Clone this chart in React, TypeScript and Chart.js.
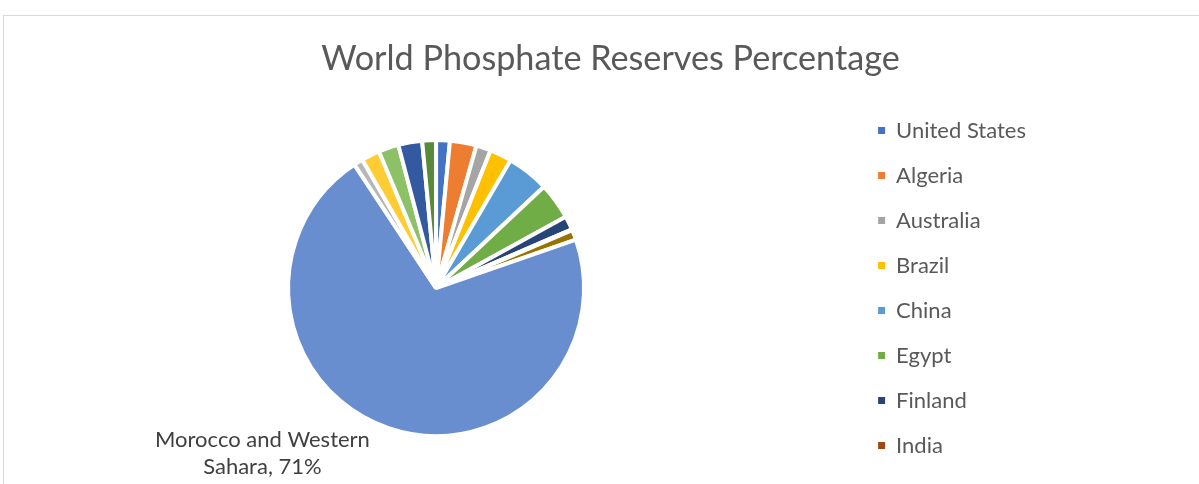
import React, { useEffect, useRef } from "react";
import { Chart, registerables } from "chart.js";

Chart.register(...registerables);

// ---- data ----
const chartTitle = "World Phosphate Reserves Percentage";
const countries = [
  "United States",
  "Algeria",
  "Australia",
  "Brazil",
  "China",
  "Egypt",
  "Finland",
  "India",
  "Jordan",
  "Morocco and Western Sahara",
  "Russia",
  "Saudi Arabia",
  "South Africa",
  "Syria",
  "Other countries",
];
const reservesPct = [1.5, 2.9, 1.6, 2.4, 4.6, 4.0, 1.5, 0.1, 1.1, 71.0, 1.0, 2.0, 2.2, 2.6, 1.5];
const sliceColors = [
  "#4472C4",
  "#ED7D31",
  "#A5A5A5",
  "#FFC000",
  "#5B9BD5",
  "#70AD47",
  "#264478",
  "#9E480E",
  "#997300",
  "#698ED0",
  "#B7B7B7",
  "#FFCD33",
  "#8CC168",
  "#335AA1",
  "#5A8A39",
];
const legendCount = 8; // legend entries that fit in the box
const labelledCountry = "Morocco and Western Sahara";

const FONT = "Lato, Carlito, 'Open Sans', sans-serif";

// centre the title across the whole chart area (like the Excel chart)
const titleSpanPlugin = {
  id: "titleSpan",
  afterLayout(chart: any) {
    if (chart.titleBlock) {
      chart.titleBlock.left = 0;
      chart.titleBlock.right = chart.width;
    }
  },
};

const dataLabelPlugin = {
  id: "sliceLabel",
  afterDatasetsDraw(chart: any) {
    const idx = countries.indexOf(labelledCountry);
    const arc = chart.getDatasetMeta(0).data[idx];
    if (!arc) return;
    const { x, y, outerRadius } = arc.getProps(["x", "y", "outerRadius"], true);
    const total = reservesPct.reduce((a, b) => a + b, 0);
    const pct = Math.round((reservesPct[idx] / total) * 100);
    const text = `${labelledCountry}, ${pct}%`;
    const ctx = chart.ctx;
    ctx.save();
    ctx.font = `22px ${FONT}`;
    ctx.fillStyle = "#404040";
    ctx.textAlign = "center";
    ctx.textBaseline = "alphabetic";
    const words = text.split(" ");
    const lines: string[] = [];
    let cur = "";
    const maxW = 240;
    for (const w of words) {
      const t = cur ? cur + " " + w : w;
      if (ctx.measureText(t).width > maxW && cur) {
        lines.push(cur);
        cur = w;
      } else cur = t;
    }
    if (cur) lines.push(cur);
    const ang = (136.4 * Math.PI) / 180;
    const cx = x + Math.cos(ang) * outerRadius * 1.62;
    const cy = y + Math.sin(ang) * outerRadius * 1.62;
    const lh = 27.7;
    const startY = cy - ((lines.length - 1) * lh) / 2 + 7;
    lines.forEach((l, i) => ctx.fillText(l, cx, startY + i * lh));
    ctx.restore();
  },
};

export default function App() {
  const ref = useRef<HTMLCanvasElement>(null);
  useEffect(() => {
    if (!ref.current) return;
    const chart = new Chart(ref.current, {
      type: "pie",
      data: {
        labels: countries,
        datasets: [
          {
            data: reservesPct,
            backgroundColor: sliceColors,
            borderColor: "#FFFFFF",
            borderWidth: 4,
            radius: 148,
          } as any,
        ],
      },
      options: {
        animation: false,
        responsive: false,
        maintainAspectRatio: false,
        layout: { padding: { left: 13, right: 181, top: 0, bottom: 43.6 } },
        plugins: {
          tooltip: { enabled: false },
          title: {
            display: true,
            text: chartTitle,
            color: "#595959",
            font: { family: FONT, size: 34.2, weight: "normal", lineHeight: 1.16 },
            padding: { top: 23, bottom: 7 },
          },
          legend: {
            display: true,
            position: "right",
            align: "center",
            fullSize: false,
            labels: {
              usePointStyle: true,
              pointStyle: "rect",
              boxWidth: 7,
              boxHeight: 7,
              padding: 23,
              color: "#595959",
              font: { family: FONT, size: 22 },
              generateLabels: () =>
                countries.slice(0, legendCount).map((text, i) => ({
                  text,
                  fillStyle: sliceColors[i],
                  strokeStyle: sliceColors[i],
                  lineWidth: 0,
                  hidden: false,
                  index: i,
                  pointStyle: "rect",
                  fontColor: "#595959",
                })),
            },
          },
        },
      },
      plugins: [titleSpanPlugin, dataLabelPlugin],
    });
    return () => chart.destroy();
  }, []);

  return (
    <div
      style={{
        position: "fixed",
        left: 0,
        top: 0,
        width: 1199,
        height: 484,
        overflow: "hidden",
        background: "#FFFFFF",
      }}
    >
      <div
        style={{
          position: "absolute",
          left: 3,
          top: 15,
          width: 1213,
          height: 518,
          border: "1px solid #D9D9D9",
          background: "#FFFFFF",
        }}
      >
        <canvas ref={ref} width={1213} height={518} style={{ display: "block", width: 1213, height: 518 }} />
      </div>
    </div>
  );
}
